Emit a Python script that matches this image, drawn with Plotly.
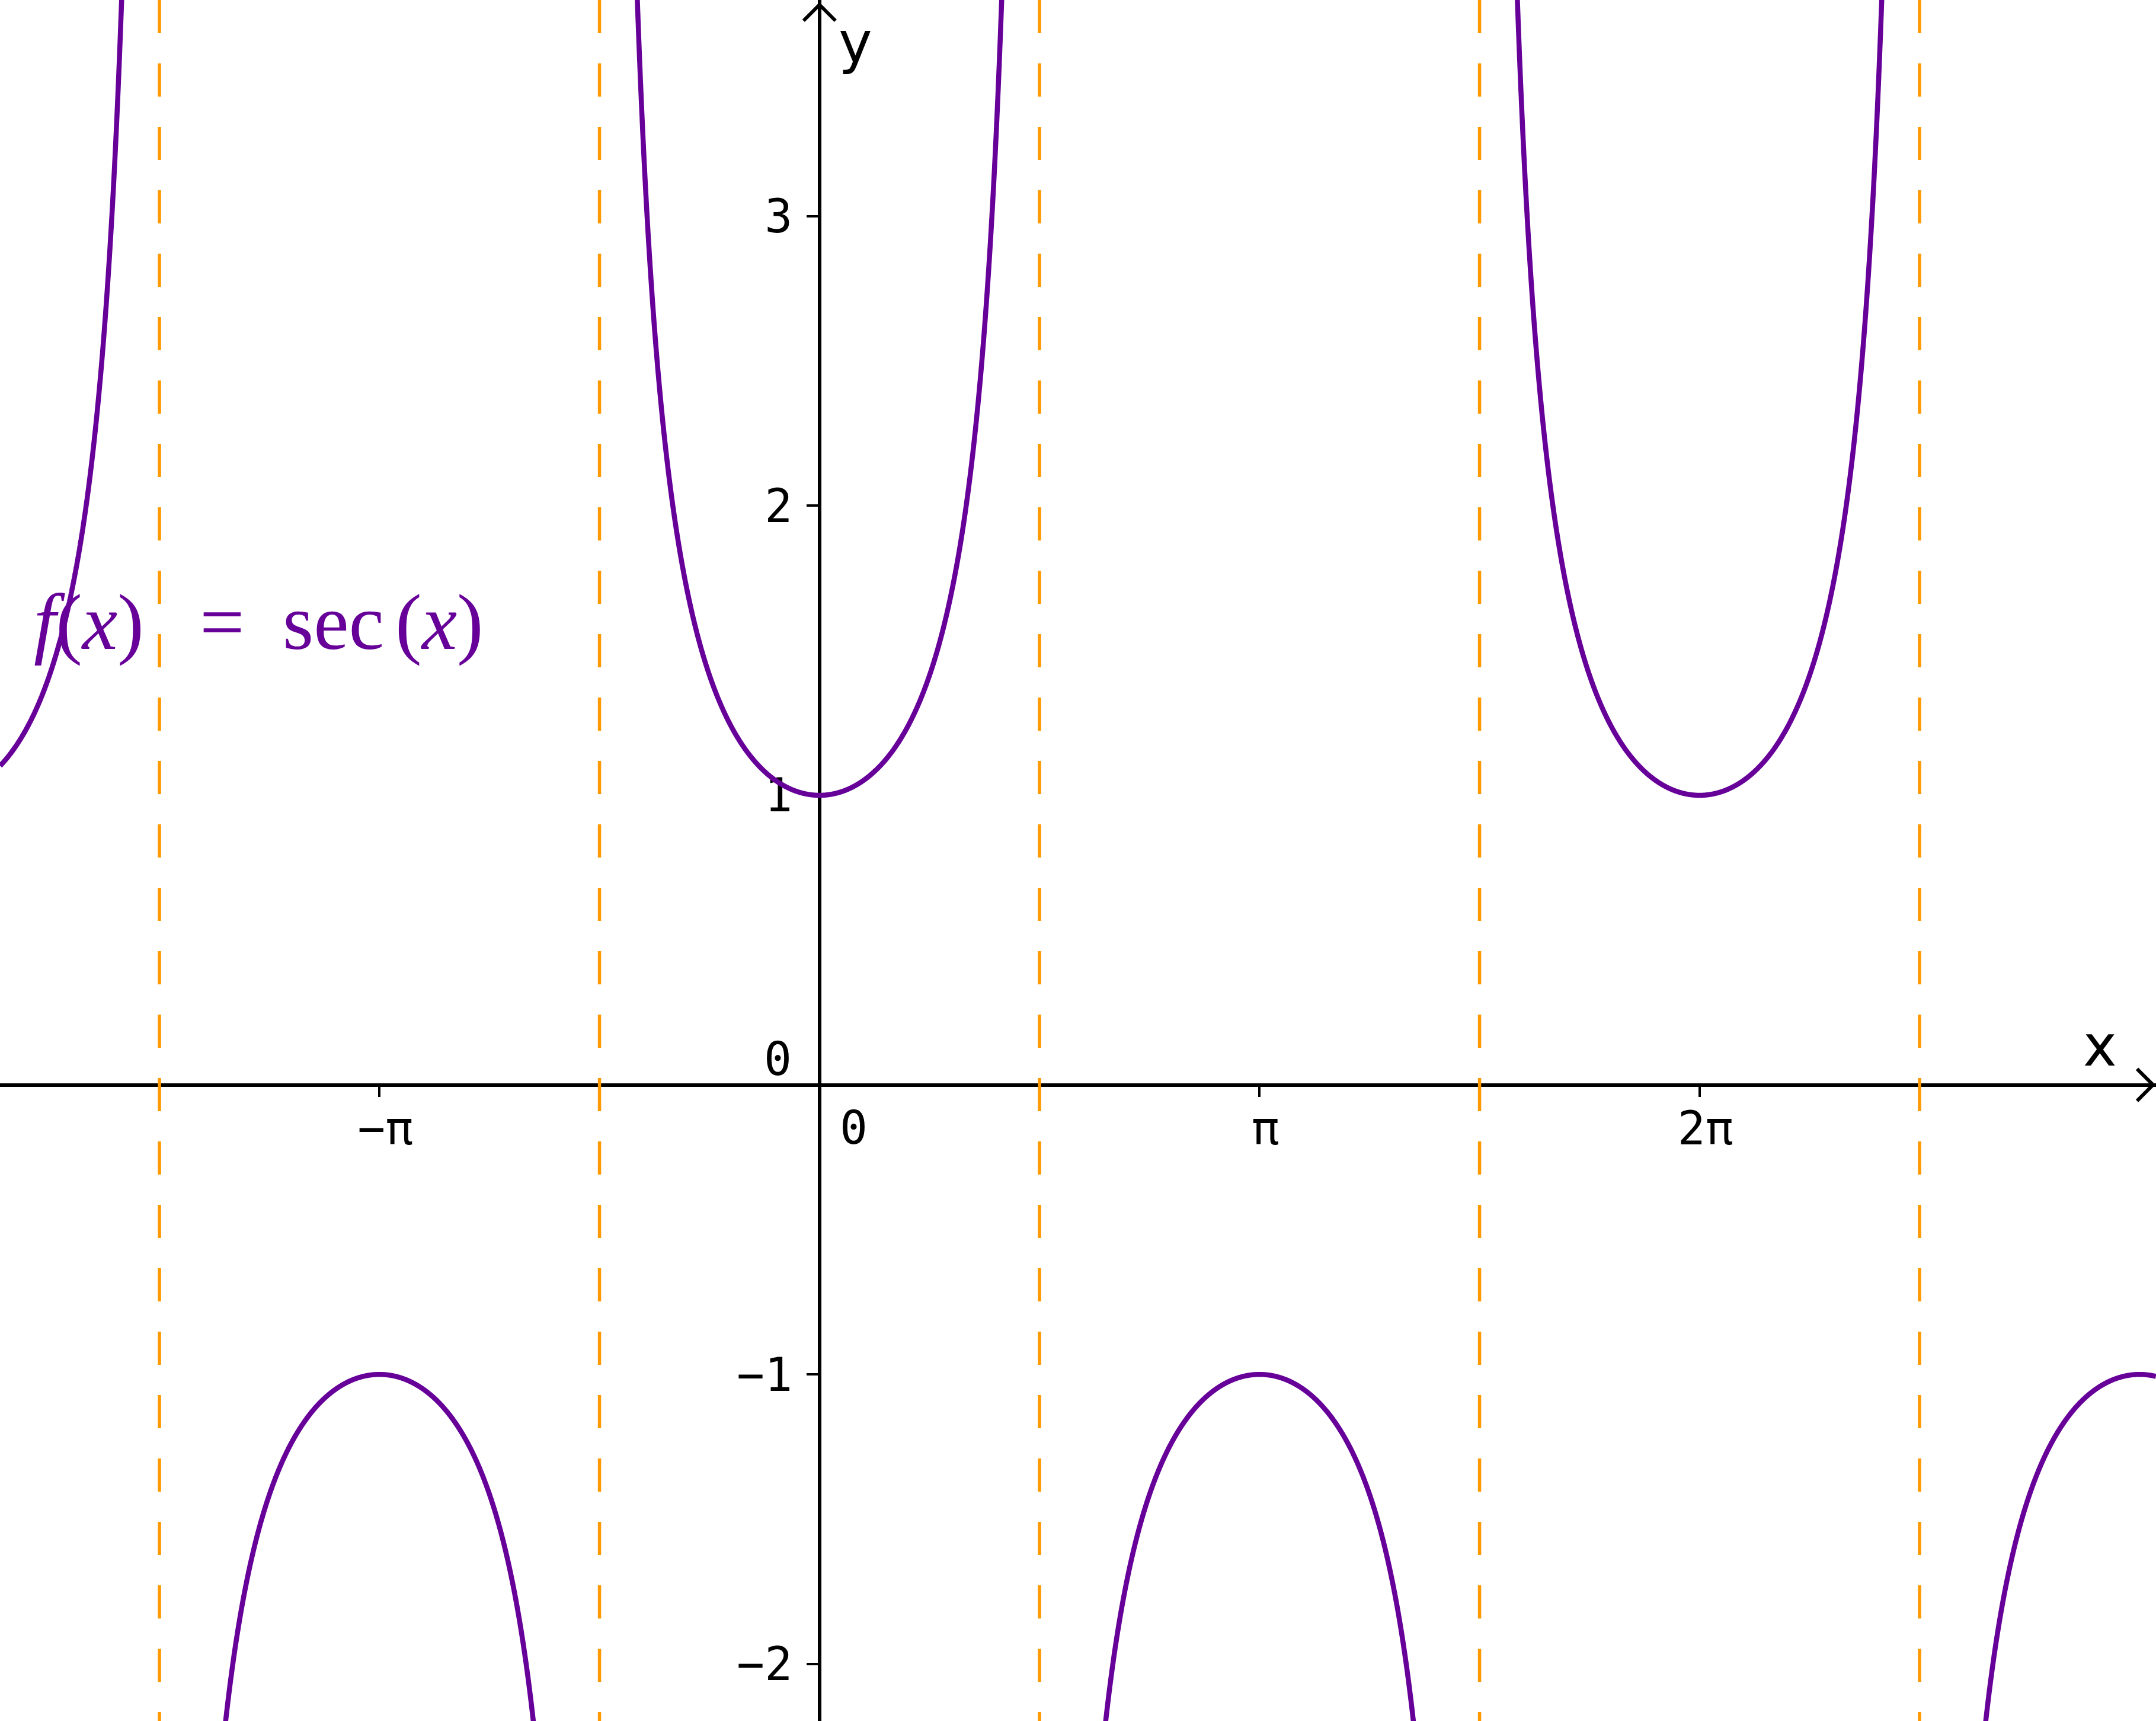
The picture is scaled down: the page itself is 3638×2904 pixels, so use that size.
"""
Plot of f(x) = sec(x) with its vertical asymptotes, axes crossing at the origin.
"""

import numpy as np
import plotly.graph_objects as go

PI = np.pi

# Visible window
X_RANGE = [-1.8624 * PI, 3.0373 * PI]
Y_RANGE = [-2.1969, 3.7466]

# Vertical asymptotes of sec(x) inside the window
ASYMPTOTES = [-1.5 * PI, -0.5 * PI, 0.5 * PI, 1.5 * PI, 2.5 * PI]

# Tick marks / labels
X_TICKS = [-PI, PI, 2 * PI]
X_TICK_LABELS = ["\u2212\u03c0", "\u03c0", "2\u03c0"]
Y_TICKS = [-2, -1, 1, 2, 3]
Y_TICK_LABELS = ["\u22122", "\u22121", "1", "2", "3"]

# Formula label, split in pieces so the spacing matches the typeset original
FORMULA_PARTS = ["<i>f</i>(<i>x</i>)", "=", "sec", "(<i>x</i>)"]

CURVE_COLOR = "#660099"
ASYM_COLOR = "#ff9900"
TICK_FONT = dict(family="DejaVu Sans Mono", size=78, color="black")

W, H = 3638, 2904


def sec_branches():
    # one branch between each pair of neighbouring asymptotes (plus the open ends)
    edges = [X_RANGE[0]] + ASYMPTOTES + [X_RANGE[1]]
    xs, ys = [], []
    for a, b in zip(edges[:-1], edges[1:]):
        x = np.linspace(a + 1e-3, b - 1e-3, 4000)
        y = 1.0 / np.cos(x)
        keep = np.abs(y) < 12
        xs.extend(x[keep].tolist() + [None])
        ys.extend(y[keep].tolist() + [None])
    return xs, ys


fig = go.Figure()

# asymptotes, drawn top to bottom so the dash pattern starts at the top edge
for a in ASYMPTOTES:
    fig.add_trace(go.Scatter(x=[a, a], y=[Y_RANGE[1], Y_RANGE[0]], mode="lines",
                             line=dict(color=ASYM_COLOR, width=5.5, dash="56px,51px"),
                             hoverinfo="skip", showlegend=False))

cx, cy = sec_branches()
fig.add_trace(go.Scatter(x=cx, y=cy, mode="lines", connectgaps=False,
                         line=dict(color=CURVE_COLOR, width=8.5, simplify=False),
                         name="sec(x)", showlegend=False))

x_pos = (0 - X_RANGE[0]) / (X_RANGE[1] - X_RANGE[0])
y_pos = (0 - Y_RANGE[0]) / (Y_RANGE[1] - Y_RANGE[0])

fig.update_xaxes(range=X_RANGE, anchor="free", position=y_pos,
                 showline=True, linecolor="black", linewidth=6,
                 ticks="outside", ticklen=17, tickwidth=4, tickcolor="black",
                 tickvals=X_TICKS, ticktext=X_TICK_LABELS, tickfont=TICK_FONT,
                 ticklabelstandoff=-13, ticklabelshift=10,
                 showgrid=False, zeroline=False, layer="below traces", fixedrange=True)
fig.update_yaxes(range=Y_RANGE, anchor="free", position=x_pos,
                 showline=True, linecolor="black", linewidth=6,
                 ticks="outside", ticklen=19, tickwidth=4, tickcolor="black",
                 tickvals=Y_TICKS, ticktext=Y_TICK_LABELS, tickfont=TICK_FONT,
                 ticklabelstandoff=8,
                 showgrid=False, zeroline=False, layer="below traces", fixedrange=True)

# open arrow heads at the positive ends of both axes
fig.add_shape(type="path", xref="x", yref="y", xsizemode="pixel", ysizemode="pixel",
              xanchor=X_RANGE[1], yanchor=0, path="M -32 27 L -5 0 L -32 -27",
              line=dict(color="black", width=6))
fig.add_shape(type="path", xref="x", yref="y", xsizemode="pixel", ysizemode="pixel",
              xanchor=0, yanchor=Y_RANGE[1], path="M -27 -35 L 0 -8 L 27 -35",
              line=dict(color="black", width=6))

# the two zeros sit off the crossing point
fig.add_annotation(x=0, y=0, xref="x", yref="y", text="0", showarrow=False,
                   xanchor="center", yanchor="middle", xshift=-70, yshift=44, font=TICK_FONT)
fig.add_annotation(x=0, y=0, xref="x", yref="y", text="0", showarrow=False,
                   xanchor="center", yanchor="middle", xshift=58, yshift=-72, font=TICK_FONT)

# axis names
fig.add_annotation(x=3543 / W, y=1 - 1765 / H, xref="paper", yref="paper", text="x",
                   showarrow=False, xanchor="center", yanchor="middle",
                   font=dict(family="DejaVu Sans", size=96, color="black"))
fig.add_annotation(x=1443 / W, y=1 - 72 / H, xref="paper", yref="paper", text="y",
                   showarrow=False, xanchor="center", yanchor="middle",
                   font=dict(family="DejaVu Sans", size=96, color="black"))

# formula label
part_centers = [150, 375, 562, 741]
for txt, px in zip(FORMULA_PARTS, part_centers):
    fig.add_annotation(x=px / W, y=1 - 1050 / H, xref="paper", yref="paper", text=txt,
                       showarrow=False, xanchor="center", yanchor="middle",
                       font=dict(family="Liberation Serif", size=134, color=CURVE_COLOR))

fig.update_layout(width=W, height=H, margin=dict(l=0, r=0, t=0, b=0),
                  paper_bgcolor="white", plot_bgcolor="white", showlegend=False)

fig.write_html("out.html", config={"displayModeBar": False},
               post_script="document.body.style.margin='0';")
